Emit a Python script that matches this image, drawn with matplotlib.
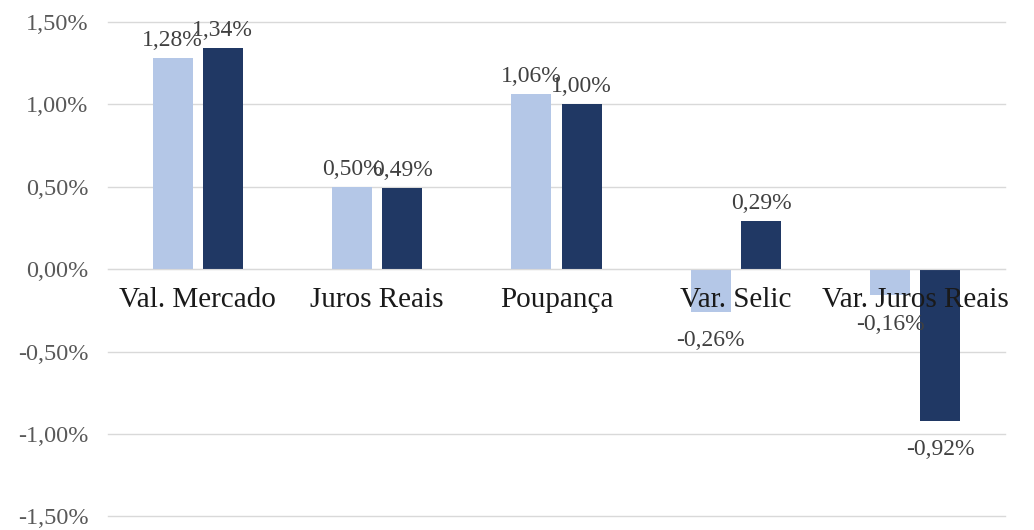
import numpy as np
import matplotlib.pyplot as plt
from matplotlib.ticker import FuncFormatter

categorias = ['Val. Mercado', 'Juros Reais', 'Poupança', 'Var. Selic', 'Var. Juros Reais']
serie_1 = [1.28, 0.50, 1.06, -0.26, -0.16]
serie_2 = [1.34, 0.49, 1.00, 0.29, -0.92]

cor_1 = '#B4C7E7'
cor_2 = '#203864'

plt.rcParams['font.family'] = ['Liberation Serif', 'DejaVu Serif']

fig = plt.figure(figsize=(10.34, 5.30), dpi=100)
ax = fig.add_axes([0.1044, 0.0255, 0.8676, 0.9335])

x = np.arange(len(categorias))
largura = 0.223
desloc = 0.14

b1 = ax.bar(x - desloc, serie_1, largura, color=cor_1, zorder=3)
b2 = ax.bar(x + desloc, serie_2, largura, color=cor_2, zorder=3)


def rotular(barras, valores):
    for barra, v in zip(barras, valores):
        cx = barra.get_x() + barra.get_width() / 2
        txt = f'{v:.2f}%'.replace('.', ',')
        if v >= 0:
            ax.annotate(txt, (cx, v), xytext=(0, 5), textcoords='offset points',
                        ha='center', va='bottom', fontsize=17, color='#404040', zorder=6)
        else:
            ax.annotate(txt, (cx, v), xytext=(0, -13), textcoords='offset points',
                        ha='center', va='top', fontsize=17, color='#404040', zorder=6)


rotular(b1, serie_1)
rotular(b2, serie_2)

ax.set_xlim(-0.5, len(categorias) - 0.5)
ax.set_ylim(-1.5, 1.5)
ax.set_yticks(np.arange(-1.5, 1.51, 0.5))
ax.yaxis.set_major_formatter(FuncFormatter(lambda v, p: f'{v:.2f}%'.replace('.', ',')))
ax.yaxis.grid(True, color='#D9D9D9', linewidth=1, zorder=0)
for g in ax.get_ygridlines():
    g.set_clip_on(False)
ax.tick_params(axis='y', length=0, pad=14, labelsize=17.5, labelcolor='#595959')

ax.set_xticks(x)
ax.set_xticklabels(categorias)
ax.tick_params(axis='x', length=0, pad=13, labelsize=21, labelcolor='#1a1a1a')
ax.spines['bottom'].set_position(('data', 0))
ax.spines['bottom'].set_color('#D9D9D9')
ax.spines['bottom'].set_zorder(4)
ax.xaxis.set_zorder(5)
for lado in ['top', 'right', 'left']:
    ax.spines[lado].set_visible(False)

fig.savefig('out.png', dpi=100)
